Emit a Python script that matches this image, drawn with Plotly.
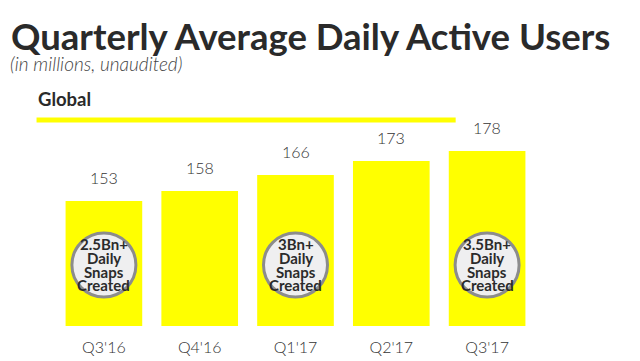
import plotly.graph_objects as go

quarters = ["Q3'16", "Q4'16", "Q1'17", "Q2'17", "Q3'17"]
dau_millions = [153, 158, 166, 173, 178]
snap_badges = ["2.5Bn+", None, "3Bn+", None, "3.5Bn+"]
badge_lines = ["Daily", "Snaps", "Created"]
badge_level = 121  # vertical position of the badges (value units)

# page body has an 8px default margin: figure is drawn from (8, 8)
OFF = 8
W, H = 640 - OFF, 361 - OFF
ML, MR, MT, MB = 55.5 - OFF, 104.5, 107 - OFF, 35
YMIN, YMAX = 90.5, 200

def px_x(p):
    return (p - OFF - ML) / (W - ML - MR)

def px_y(p):
    return (H - MB - (p - OFF)) / (H - MT - MB)

YELLOW = "#FFFF00"
FONT = "Lato"

fig = go.Figure()
fig.add_trace(go.Bar(x=quarters, y=dau_millions, marker=dict(color=YELLOW, line=dict(width=0)),
                     hoverinfo="x+y"))

bx = [q for q, b in zip(quarters, snap_badges) if b]
fig.add_trace(go.Scatter(x=bx, y=[badge_level] * len(bx), mode="markers", cliponaxis=False,
                         hoverinfo="skip",
                         marker=dict(size=64, color="#efeff0", line=dict(color="#8c8c8c", width=3))))

annotations = []
for q, v in zip(quarters, dau_millions):
    annotations.append(dict(x=q, y=v, xref="x", yref="y", text=str(v), showarrow=False,
                            yanchor="bottom", yshift=12,
                            font=dict(family=FONT, size=16, color="#333333", weight=300)))

shifts = [21, 7, -7, -20]
for q, b in zip(quarters, snap_badges):
    if not b:
        continue
    for line, s in zip([b] + badge_lines, shifts):
        annotations.append(dict(x=q, y=badge_level, xref="x", yref="y", text="<b>%s</b>" % line,
                                showarrow=False, yanchor="middle", yshift=s, borderpad=0,
                                font=dict(family=FONT, size=15, color="#2b2b2b")))

annotations += [
    dict(x=px_x(8), y=px_y(36), xref="paper", yref="paper", xanchor="left", yanchor="middle",
         text="<b>Quarterly Average Daily Active Users</b>", showarrow=False,
         font=dict(family=FONT, size=36.5, color="#2a2a2a")),
    dict(x=px_x(7), y=px_y(64), xref="paper", yref="paper", xanchor="left", yanchor="middle",
         text="<i>(in millions, unaudited)</i>", showarrow=False,
         font=dict(family=FONT, size=19, color="#444444", weight=300)),
    dict(x=px_x(35), y=px_y(99), xref="paper", yref="paper", xanchor="left", yanchor="middle",
         text="<b>Global</b>", showarrow=False,
         font=dict(family=FONT, size=18.5, color="#2a2a2a")),
]

fig.update_layout(
    template="none",
    width=W, height=H,
    margin=dict(l=ML, r=MR, t=MT, b=MB, pad=0, autoexpand=False),
    paper_bgcolor="white", plot_bgcolor="white",
    showlegend=False, bargap=0.2,
    annotations=annotations,
    shapes=[dict(type="rect", xref="paper", yref="paper", x0=px_x(36), x1=px_x(456),
                 y0=px_y(122.5), y1=px_y(117.5), fillcolor=YELLOW, line=dict(width=0), layer="above")],
    xaxis=dict(range=[-0.5, len(quarters) - 0.5], showline=False, showgrid=False, zeroline=False,
               ticks="", automargin=False,
               tickfont=dict(family=FONT, size=16, color="#333333", weight=300), ticklabelstandoff=10),
    yaxis=dict(range=[YMIN, YMAX], visible=False, showgrid=False, zeroline=False, automargin=False),
)

fig.write_html("out.html")
